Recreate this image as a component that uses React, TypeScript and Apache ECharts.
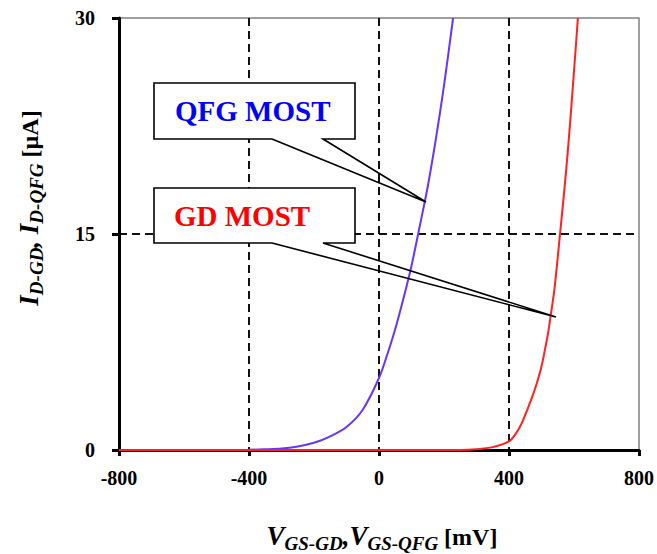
import React, { useEffect, useRef } from "react";
import * as echarts from "echarts";

// QFG MOST drain current vs gate voltage
const qfgV = [-800, -400, -350, -300, -250, -200, -150, -100, -50, 0, 25, 50, 75, 100, 125, 150, 175, 200, 228];
const qfgI = [0, 0.02, 0.05, 0.1, 0.25, 0.5, 0.95, 1.6, 2.8, 5.0, 6.6, 8.4, 10.5, 12.8, 15.5, 18.3, 21.6, 25.3, 30];

// GD MOST drain current vs gate voltage
const gdV = [-800, 250, 300, 350, 400, 420, 440, 470, 485, 500, 510, 520, 530, 540, 557, 570, 580, 590, 600, 612];
const gdI = [0, 0, 0.05, 0.2, 0.6, 1.1, 1.9, 3.6, 4.6, 5.8, 6.9, 8.1, 9.6, 11.2, 15, 18, 20.5, 23.3, 26.3, 30];

const xTicks = { min: -800, max: 800, interval: 400 };
const yTicks = { min: 0, max: 30, interval: 15 };

const FONT = "Liberation Serif";

export default function App() {
  const ref = useRef<HTMLDivElement>(null);
  useEffect(() => {
    if (!ref.current) return;
    const chart = echarts.init(ref.current, null, { renderer: "svg" });
    const qfgData = qfgV.map((v, i) => [v, qfgI[i]]);
    const gdData = gdV.map((v, i) => [v, gdI[i]]);
    const sub = { fontFamily: FONT, fontWeight: "bold", fontStyle: "italic", fontSize: 19, verticalAlign: "bottom", lineHeight: 32, fill: "#000" } as any;
    const main = { fontFamily: FONT, fontWeight: "bold", fontStyle: "italic", fontSize: 27, verticalAlign: "bottom", lineHeight: 32, padding: [0, 0, 4, 0], fill: "#000" } as any;
    const unit = { fontFamily: FONT, fontWeight: "bold", fontSize: 24, verticalAlign: "bottom", lineHeight: 32, padding: [0, 0, 4, 0], fill: "#000" } as any;
    const callout = (top: number, bottom: number, tip: [number, number]) => [
      {
        type: "rect",
        z: 100,
        shape: { x: 154, y: top, width: 201, height: bottom - top },
        style: { fill: "#fff", stroke: null },
      },
      {
        type: "polyline",
        z: 101,
        shape: {
          points: [
            [272, bottom],
            [154, bottom],
            [154, top],
            [355, top],
            [355, bottom],
            [323, bottom],
            tip,
            [272, bottom],
          ],
        },
        style: { stroke: "#000", lineWidth: 1.6, fill: null },
      },
    ];
    const gridLine = { show: true, showMinLine: false, showMaxLine: false, lineStyle: { color: "#111", width: 2, type: [8, 5] } };
    chart.setOption({
      animation: false,
      grid: {
        left: 119,
        right: 12,
        top: 18,
        bottom: 104,
        show: true,
        borderColor: "#808080",
        borderWidth: 1.5,
      },
      xAxis: {
        type: "value",
        min: xTicks.min,
        max: xTicks.max,
        interval: xTicks.interval,
        axisLine: { show: true, onZero: false, lineStyle: { color: "#000", width: 3 } },
        axisTick: { show: true, length: 6, lineStyle: { color: "#000", width: 3 } },
        axisLabel: { color: "#000", fontFamily: FONT, fontWeight: "bold", fontSize: 20, margin: 18 },
        splitLine: gridLine,
      },
      yAxis: {
        type: "value",
        min: yTicks.min,
        max: yTicks.max,
        interval: yTicks.interval,
        axisLine: { show: true, onZero: false, lineStyle: { color: "#000", width: 3 } },
        axisTick: { show: true, length: 7, lineStyle: { color: "#000", width: 3 } },
        axisLabel: { color: "#000", fontFamily: FONT, fontWeight: "bold", fontSize: 20, margin: 24 },
        splitLine: gridLine,
      },
      series: [
        {
          name: "QFG MOST",
          type: "line",
          data: qfgData,
          smooth: 0.3,
          showSymbol: false,
          lineStyle: { color: "#6633ff", width: 2 },
          z: 3,
        },
        {
          name: "GD MOST",
          type: "line",
          data: gdData,
          smooth: 0.3,
          showSymbol: false,
          lineStyle: { color: "#ff2020", width: 2 },
          z: 4,
        },
      ],
      graphic: [
        ...callout(83, 139, [426, 202]),
        ...callout(188, 243, [556, 317]),
        {
          type: "text",
          z: 102,
          x: 175,
          y: 111,
          style: {
            text: "QFG MOST",
            fill: "#0000ff",
            font: `bold 29px "${FONT}"`,
            verticalAlign: "middle",
            align: "left",
          },
        },
        {
          type: "text",
          z: 102,
          x: 174,
          y: 216,
          style: {
            text: "GD MOST",
            fill: "#ff0000",
            font: `bold 29px "${FONT}"`,
            verticalAlign: "middle",
            align: "left",
          },
        },
        {
          type: "text",
          x: 382,
          y: 537,
          style: {
            text: "{m|V}{s|GS-GD}{m|,V}{s|GS-QFG}{u| [mV]}",
            align: "center",
            verticalAlign: "middle",
            rich: { m: main, s: sub, u: unit },
          },
        },
        {
          type: "text",
          x: 30,
          y: 208,
          rotation: Math.PI / 2,
          style: {
            text: "{m|I}{s|D-GD}{m|, I}{s|D-QFG}{u| [µA]}",
            align: "center",
            verticalAlign: "middle",
            rich: { m: main, s: sub, u: unit },
          },
        },
      ],
    });
    return () => chart.dispose();
  }, []);
  return (
    <div
      ref={ref}
      style={{ position: "fixed", left: 0, top: 0, width: 657, height: 554, background: "#fff" }}
    />
  );
}
